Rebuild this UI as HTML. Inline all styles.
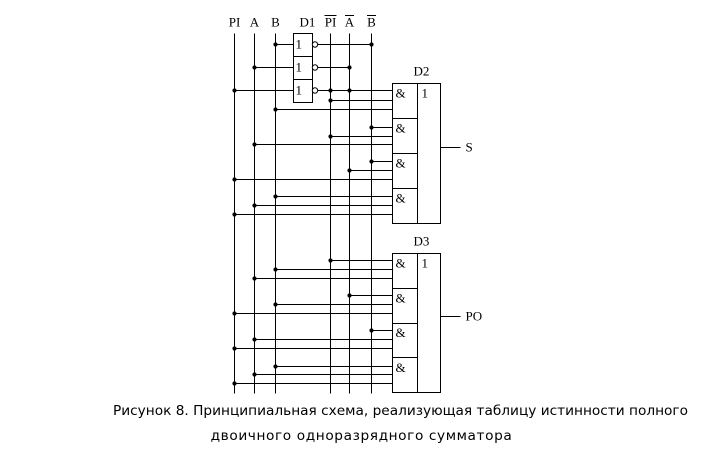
<!DOCTYPE html>
<html><head><meta charset="utf-8"><style>
body{margin:0;background:#fff;width:713px;height:457px;overflow:hidden}
svg{position:absolute;left:0;top:0}
.cap{position:absolute;left:0;width:800px;text-align:center;font-family:"DejaVu Sans",sans-serif;font-size:13.7px;color:#000}
</style></head><body>
<svg width="713" height="457">
<g id="g" stroke="#000" stroke-width="1" fill="none" font-family="Liberation Serif,serif" font-size="13" transform="translate(0.5,0.5)"></g>
</svg>
<div class="cap" style="top:403px;left:0;width:801px">Рисунок 8. Принципиальная схема, реализующая таблицу истинности полного</div>
<div class="cap" style="top:428px;left:0;width:723px;letter-spacing:0.6px">двоичного одноразрядного сумматора</div>
<script>
const busNames=['PI','A','B','nPI','nA','nB'];
const busX={PI:234,A:254,B:275,nPI:330,nA:349,nB:371};
const d2Inputs=[[90,['nPI','nA']],[100,['nPI']],[109,['B']],[127,['nB']],[136,['nPI']],[144,['A']],[161,['nB']],[170,['nA']],[179,['PI']],[196,['B']],[205,['A']],[214,['PI']]];
const d3Inputs=[[260,['nPI']],[269,['B']],[278,['A']],[295,['nA']],[304,['B']],[313,['PI']],[330,['nB']],[339,['A']],[348,['PI']],[366,['B']],[374,['A']],[383,['PI']]];
const g=document.getElementById('g');const NS='http://www.w3.org/2000/svg';
function el(t,a,name){const e=document.createElementNS(NS,t);for(const k in a)e.setAttribute(k,a[k]);


g.appendChild(e);return e;}
function line(x1,y1,x2,y2,n){el('line',{x1,y1,x2,y2,'shape-rendering':'crispEdges'},n||'wire');}
function dot(x,y){el('circle',{cx:x,cy:y,r:1.6,fill:'#000'},'junction-dot');}
function txt(x,y,s,n,extra){const t=el('text',Object.assign({x,y,fill:'#000',stroke:'none'},extra||{}),n);t.textContent=s;return t;}
busNames.forEach(b=>line(busX[b],33,busX[b],393,'bus-'+b));
const lbl={PI:'PI',A:'A',B:'B',nPI:'PI',nA:'A',nB:'B'};
busNames.forEach(b=>{const t=txt(busX[b],26,lbl[b],'label-'+b,{'text-anchor':'middle'});
 if(b[0]=='n'){const w=b=='nPI'?12:9;line(busX[b]-w/2,15,busX[b]+w/2,15,'overline-'+b);}});
// D1
el('rect',{x:293,y:33,width:19,height:69,'shape-rendering':'crispEdges'},'d1-box');
line(293,56,312,56,'d1-div');line(293,79,312,79,'d1-div');
txt(299,26,'D1','d1-label');
[[44,'B','nB'],[67,'A','nA'],[90,'PI','nPI']].forEach((r,i)=>{
 const y=r[0];line(busX[r[1]],y,293,y,'inv-in');dot(busX[r[1]],y);
 txt(295,y+4,'1','inv-symbol');el('circle',{cx:314.5,cy:y,r:2.7,fill:'#fff'},'inv-bubble');
 if(i<2){line(317,y,busX[r[2]],y,'inv-out');dot(busX[r[2]],y);}else line(317,y,392,y,'inv-out');
});
function block(top,bot,label,out,outY,inputs,name){
 el('rect',{x:392,y:top,width:48,height:bot-top,'shape-rendering':'crispEdges'},name+'-box');
 line(417,top,417,bot,name+'-div');
 const h=(bot-top)/4;
 for(let i=1;i<4;i++)line(392,Math.round(top+h*i),417,Math.round(top+h*i),name+'-gate-sep');
 for(let i=0;i<4;i++)txt(395,top+h*i+14,'&','and-symbol');
 txt(421,top+14,'1','or-symbol');
 txt(413,top-8,label,name+'-label');
 line(440,outY,460,outY,name+'-output');
 txt(465,outY+4,out,name+'-output-label');
 inputs.forEach(p=>{const y=p[0];const xs=p[1].map(b=>busX[b]);const xm=Math.min(...xs);
  line(xm,y,392,y,'gate-input');xs.forEach(x=>dot(x,y));});
}
block(83,223,'D2','S',147,d2Inputs,'d2');
block(253,392,'D3','PO',316,d3Inputs,'d3');
</script>
</body></html>
